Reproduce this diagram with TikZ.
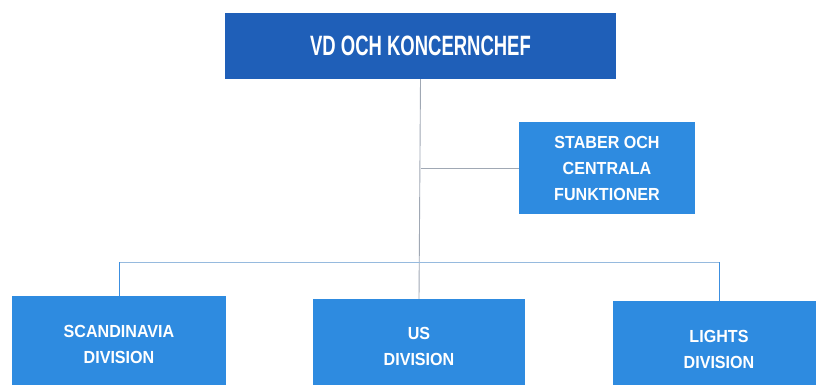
\documentclass[tikz,border=0pt]{standalone}
\usepackage{fontspec}
\usepackage{tikz}
\newfontfamily\headfont[FakeStretch=0.66]{Liberation Sans}
\newfontfamily\unitfont[FakeStretch=0.92]{Liberation Sans}
\definecolor{vdblue}{RGB}{31,95,184}
\definecolor{unitblue}{RGB}{46,139,224}
\definecolor{stemgray}{RGB}{160,168,180}
\definecolor{buslight}{RGB}{150,186,222}
\definecolor{busblue}{RGB}{60,143,224}

\begin{document}
\begin{tikzpicture}[x=1pt,y=-1pt,
  headbox/.style={fill=vdblue,text=white,minimum width=391pt,minimum height=66pt,
    inner sep=0pt,font=\headfont\bfseries\fontsize{28}{30}\selectfont},
  unitbox/.style={fill=unitblue,text=white,inner sep=0pt,align=center,
    font=\unitfont\bfseries\fontsize{17.5}{26}\selectfont},
  stem/.style={draw=stemgray,line width=0.9pt},
  bus/.style={draw=buslight,line width=1pt},
  drop/.style={draw=busblue,line width=1pt}]
  \useasboundingbox (0,0) rectangle (816,385);
  \clip (0,0) rectangle (816,385);

  \node[headbox] (vd) at (420.5,46) {VD OCH KONCERNCHEF};
  \node[unitbox,minimum width=176pt,minimum height=92pt] (staber) at (607,168)
    {STABER OCH\\CENTRALA\\FUNKTIONER};

  \node[unitbox,minimum width=214pt,minimum height=96pt] (scand) at (119,344)
    {SCANDINAVIA\\DIVISION};
  \node[unitbox,minimum width=212pt,minimum height=95pt] (us) at (419,346.5)
    {US\\DIVISION};
  \node[unitbox,minimum width=212pt,minimum height=96pt] (lights) at (719,349)
    {LIGHTS\\DIVISION};

  \coordinate (bus) at (419,262);
  \draw[stem] (vd.south) -- (us.north);
  \draw[stem] (vd.south |- staber.west) -- (staber.west);
  \draw[bus] (scand.north |- bus) -- (lights.north |- bus);
  \draw[drop] (scand.north) -- (scand.north |- bus);
  \draw[drop] (lights.north) -- (lights.north |- bus);
\end{tikzpicture}
\end{document}
